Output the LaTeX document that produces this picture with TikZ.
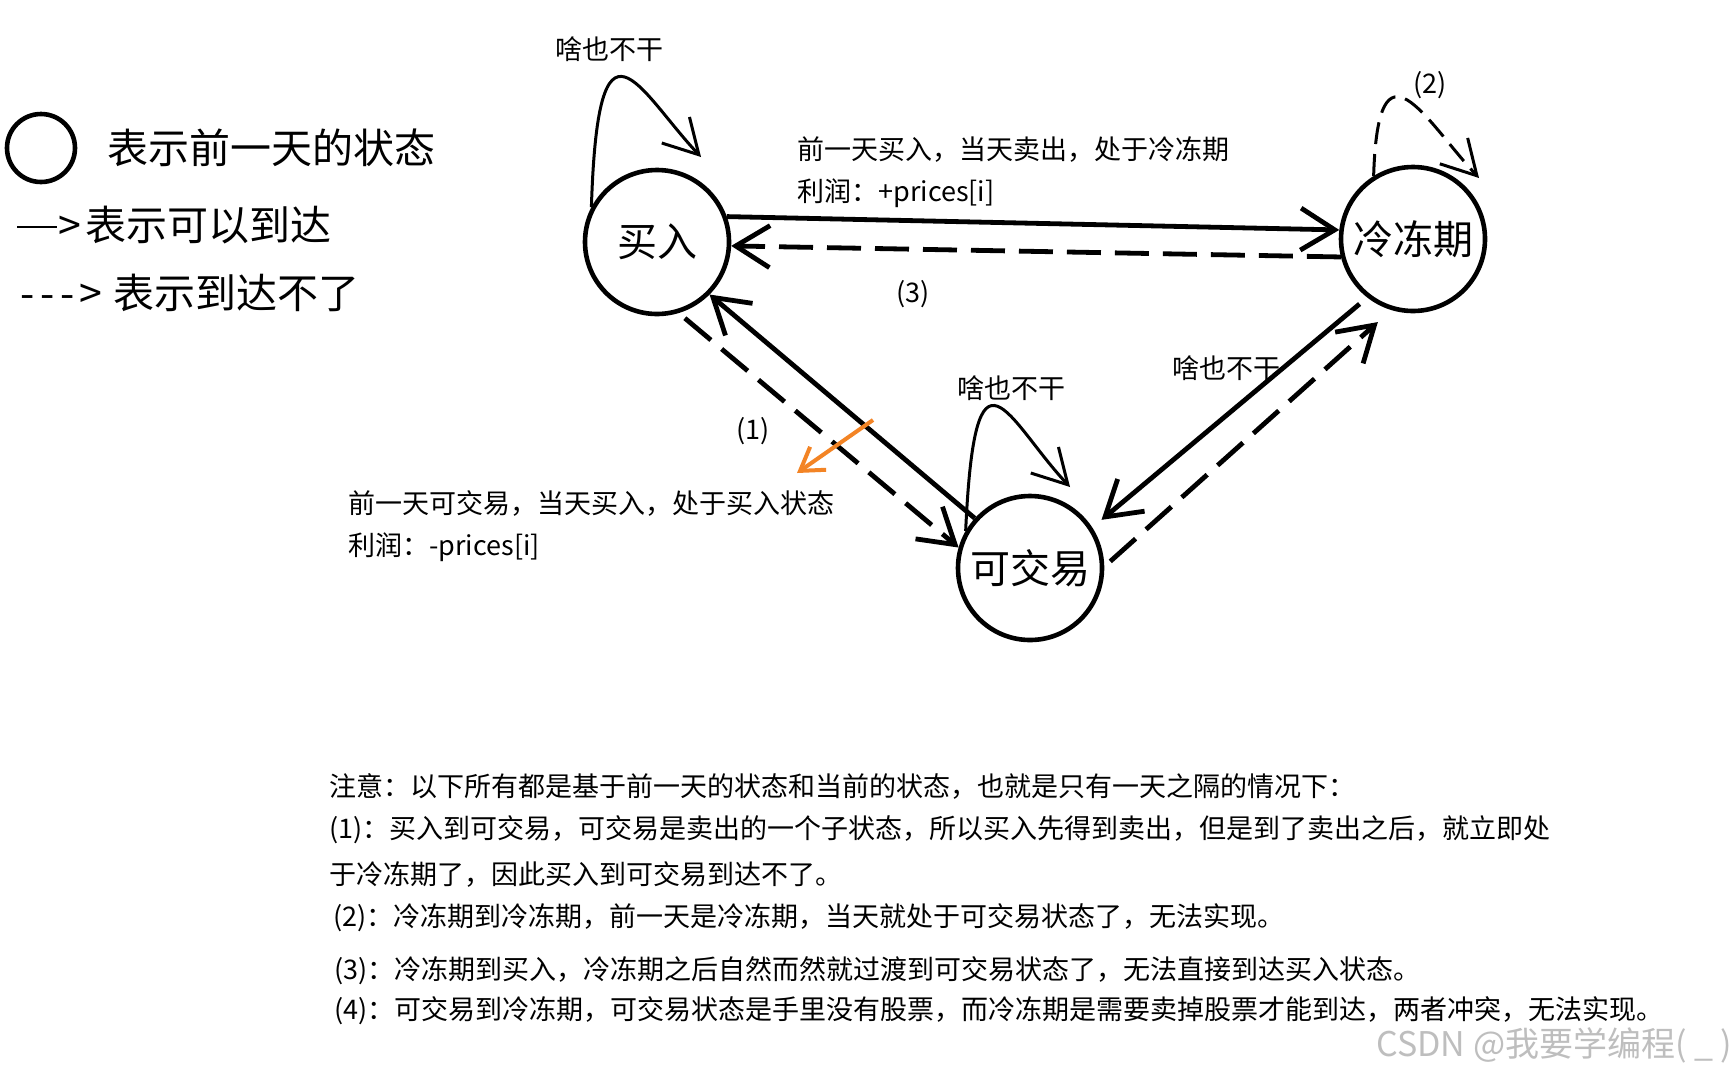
\documentclass[tikz,border=0pt]{standalone}
\usepackage{fontspec}
\setmainfont{Noto Sans CJK SC}
\usetikzlibrary{arrows.meta}
\definecolor{arrorange}{RGB}{243,132,37}
\definecolor{wmgray}{RGB}{190,190,190}
\begin{document}
\begin{tikzpicture}[x=0.5pt,y=-0.5pt,
  state/.style={circle,draw,line width=2.3pt,minimum size=72pt,inner sep=0pt,font=\fontsize{20}{24}\selectfont},
  lab/.style={font=\fontsize{13.5}{16}\selectfont,inner sep=0pt},
  biglab/.style={font=\fontsize{20.5}{24}\selectfont,inner sep=0pt,anchor=west},
  note/.style={lab,anchor=west},
  conn/.style={line width=2.4pt,-{Straight Barb[length=17pt,width=21pt]}},
  dashconn/.style={conn,dash pattern=on 17pt off 7pt},
  loopconn/.style={line width=1.5pt,-{Straight Barb[length=17pt,width=19pt]}},
]
\useasboundingbox[fill=white] (0,0) rectangle (1733,1077);

% legend
\node[circle,draw,line width=2.3pt,minimum size=34pt,inner sep=0pt] (legc) at (41,148) {};
\node[biglab] (leg1) at (107,148) {表示前一天的状态};
\node[biglab] (leg2) at (17,225) {\rule[0.3em]{20pt}{1.3pt}\kern0.5pt>\kern2pt表示可以到达};
\node[biglab] (leg3) at (20,293) {-\kern3pt-\kern3pt-\kern2pt>\kern6pt表示到达不了};

% states
\node[state] (buy) at (657,242) {买入};
\node[state] (cool) at (1413,239) {冷冻期};
\node[state] (trade) at (1030,568) {可交易};

% connectors
\draw[conn] (buy.20) -- (cool.173);
\draw[dashconn] (cool.194) -- (buy.-3);
\draw[conn] (trade.138) -- (buy.-45);
\draw[dashconn, shorten <=4pt] (buy.-73) -- (trade.164);
\draw[conn, shorten <=5pt, shorten >=6pt] (cool.-128) -- (trade.33);
\draw[dashconn, shorten <=4pt, shorten >=9pt] (trade.1) -- (cool.-107);

% self loops
\coordinate (buyloopend) at (701,157);
\draw[loopconn] (buy.152) .. controls (598,-5) and (638,90) .. (buyloopend);
\coordinate (tradeloopend) at (1070,487);
\draw[loopconn] (trade.150) .. controls (975,325) and (1007,420) .. (tradeloopend);
\coordinate (coolloopend) at (1479,178);
\draw[loopconn, dash pattern=on 11pt off 5pt] (cool.122) .. controls (1378,30) and (1425,120) .. (coolloopend);

% orange arrow
\coordinate (ostart) at (873,420);
\coordinate (oend) at (797,473);
\draw[line width=2pt, arrorange, -{Straight Barb[length=11pt,width=14pt]}] (ostart) -- (oend);

% labels
\node[lab] (l1) at (609,49) {啥也不干};
\node[note] (l2) at (797,150) {前一天买入，当天卖出，处于冷冻期};
\node[note] (l3) at (797,193) {利润：+prices[i]};
\node[lab] (l4) at (913,294) {(3)};
\node[lab] (l5) at (753,431) {(1)};
\node[note] (l6) at (348,503) {前一天可交易，当天买入，处于买入状态};
\node[note] (l7) at (348,547) {利润：-prices[i]};
\node[lab] (l8) at (1011,388) {啥也不干};
\node[lab] (l9) at (1226,368) {啥也不干};
\node[lab] (l10) at (1430,85) {(2)};

% notes
\node[note] (n0) at (329,786) {注意：以下所有都是基于前一天的状态和当前的状态，也就是只有一天之隔的情况下：};
\node[note] (n1) at (329,830) {(1)：买入到可交易，可交易是卖出的一个子状态，所以买入先得到卖出，但是到了卖出之后，就立即处};
\node[note] (n1b) at (329,874) {于冷冻期了，因此买入到可交易到达不了。};
\node[note] (n2) at (333,918) {(2)：冷冻期到冷冻期，前一天是冷冻期，当天就处于可交易状态了，无法实现。};
\node[note] (n3) at (334,971) {(3)：冷冻期到买入，冷冻期之后自然而然就过渡到可交易状态了，无法直接到达买入状态。};
\node[note] (n4) at (334,1011) {(4)：可交易到冷冻期，可交易状态是手里没有股票，而冷冻期是需要卖掉股票才能到达，两者冲突，无法实现。};
\node[note, text=wmgray, font=\fontsize{17}{20}\selectfont] (wm) at (1376,1045) {CSDN @我要学编程( \_ )};
\end{tikzpicture}
\end{document}
